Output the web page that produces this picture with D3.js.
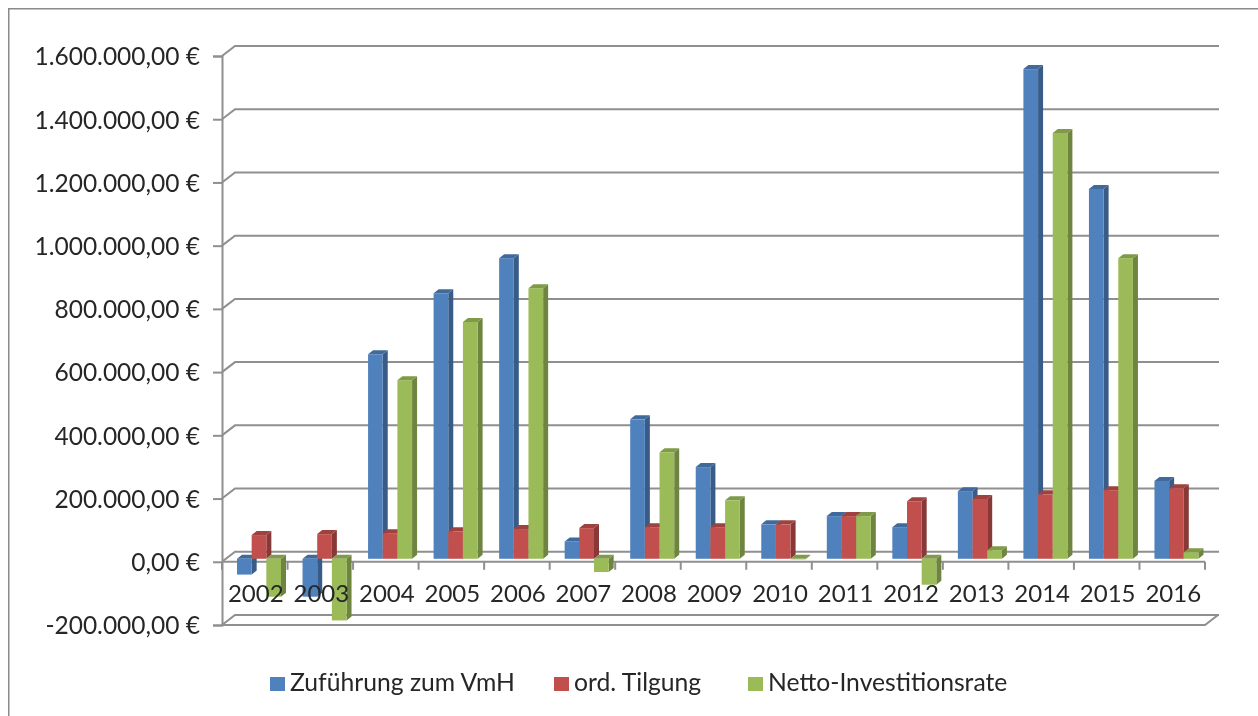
<!DOCTYPE html>
<html>
<head>
<meta charset="utf-8">
<script src="https://cdn.jsdelivr.net/npm/d3@7"></script>
<style>
  html, body { margin: 0; background: #fff; }
  svg { display: block; font-family: Lato, "Open Sans", sans-serif; }
  text { fill: #262626; }
</style>
</head>
<body>
<svg id="chart" width="1258" height="716">
  <defs>
    <filter id="soft" x="0" y="0" width="100%" height="100%">
      <feGaussianBlur stdDeviation="0.45"></feGaussianBlur>
    </filter>
  </defs>
</svg>
<script>
const years = ['2002','2003','2004','2005','2006','2007','2008','2009','2010','2011','2012','2013','2014','2015','2016'];
const seriesNames = ['Zuführung zum VmH', 'ord. Tilgung', 'Netto-Investitionsrate'];
const zufuehrung = [-50000,-120000,647000,840000,951000,55000,441000,290000,109000,135000,100000,214000,1549000,1170000,246000];
const tilgung = [75000,78000,81000,87000,94000,97000,100000,100000,109000,135000,182000,189000,204000,217000,223000];
const netto = [-120000,-195000,565000,749000,856000,-42000,337000,185000,-2000,135000,-82000,27000,1347000,951000,21000];
const yTicks = [-200000,0,200000,400000,600000,800000,1000000,1200000,1400000,1600000];
const colors = ['#4f81bd','#c0504d','#9bbb59'];

const allSeries = [zufuehrung, tilgung, netto];
const gridColor = '#8f8f8f';
const depthX = 13, depthY = -10;   // wall depth
const barDX = 5, barDY = -4;       // bar depth
const svg = d3.select('#chart');
const plot = svg.append('g').attr('filter', 'url(#soft)');

const euro = d3.formatLocale({
  decimal: ',', thousands: '.', grouping: [3], currency: ['', ' €'], minus: '-'
}).format('$,.2f');

const x = d3.scaleBand().domain(years).range([222, 1205]);
const y = d3.scaleLinear().domain([-200000, 1600000]).range([625, 56]);
const inner = d3.scaleBand().domain(d3.range(3)).range([15, 59]);

// outer frame
plot.append('path')
  .attr('d', 'M1258,8.5H8.5V716')
  .attr('fill', 'none').attr('stroke', '#8a8a8a').attr('stroke-width', 2);

// walls and gridlines
const walls = plot.append('g')
  .attr('fill', 'none').attr('stroke', gridColor).attr('stroke-width', 2);

yTicks.forEach(t => {
  walls.append('path')
    .attr('d', `M222,${y(t)}l${depthX},${depthY}H1219`);
});
walls.append('path')
  .attr('d', `M222,${y(-200000)}H1205l${depthX},${depthY}`);
walls.append('path')
  .attr('d', `M222,${y(0)}H1205`);
years.concat('end').forEach((yr, i) => {
  const px = i < years.length ? x(yr) : x.range()[1];
  walls.append('line')
    .attr('x1', px).attr('x2', px)
    .attr('y1', y(0)).attr('y2', y(0) + 8);
});

// y axis
const yAxis = plot.append('g')
  .attr('transform', 'translate(222,0)')
  .call(d3.axisLeft(y).tickValues(yTicks).tickFormat(euro).tickSize(9).tickPadding(13));
yAxis.selectAll('.domain, .tick line')
  .attr('stroke', gridColor).attr('stroke-width', 2);
yAxis.selectAll('text')
  .attr('font-size', 24.5).attr('dy', '0.36em')
  .attr('font-family', 'Lato, "Open Sans", sans-serif');

// bars, shifted into the floor a little
const y0 = y(0) - 3;
const barY = v => y(v) - 3;
const bars = plot.append('g');

years.forEach((yr, i) => {
  allSeries.forEach((values, s) => {
    const v = values[i];
    const bx = x(yr) + inner(s);
    const w = inner.bandwidth();
    const top = Math.min(y0, barY(v));
    const bottom = Math.max(y0, barY(v));
    const base = d3.color(colors[s]);
    const g = bars.append('g');
    g.append('path')
      .attr('d', `M${bx + w},${top}l${barDX},${barDY}V${bottom + barDY}l${-barDX},${-barDY}Z`)
      .attr('fill', base.darker(0.95));
    g.append('path')
      .attr('d', `M${bx},${top}l${barDX},${barDY}h${w}l${-barDX},${-barDY}Z`)
      .attr('fill', base.darker(0.55));
    g.append('rect')
      .attr('x', bx).attr('y', top)
      .attr('width', w).attr('height', bottom - top)
      .attr('fill', colors[s]);
  });
});

// x axis labels sit on top of the bars
const xAxis = plot.append('g')
  .attr('transform', `translate(1,${y(0) + 9})`)
  .call(d3.axisBottom(x).tickSize(0).tickPadding(14));
xAxis.select('.domain').remove();
xAxis.selectAll('text')
  .attr('font-size', 24).attr('font-family', 'Lato, "Open Sans", sans-serif');

// legend
const legendX = [270, 554, 748];
const legend = plot.append('g');
seriesNames.forEach((name, i) => {
  legend.append('rect')
    .attr('x', legendX[i]).attr('y', 677)
    .attr('width', 15).attr('height', 14)
    .attr('fill', colors[i]);
  legend.append('text')
    .attr('x', legendX[i] + 20).attr('y', 691)
    .attr('font-size', 24.7)
    .text(name);
});
</script>
</body>
</html>
